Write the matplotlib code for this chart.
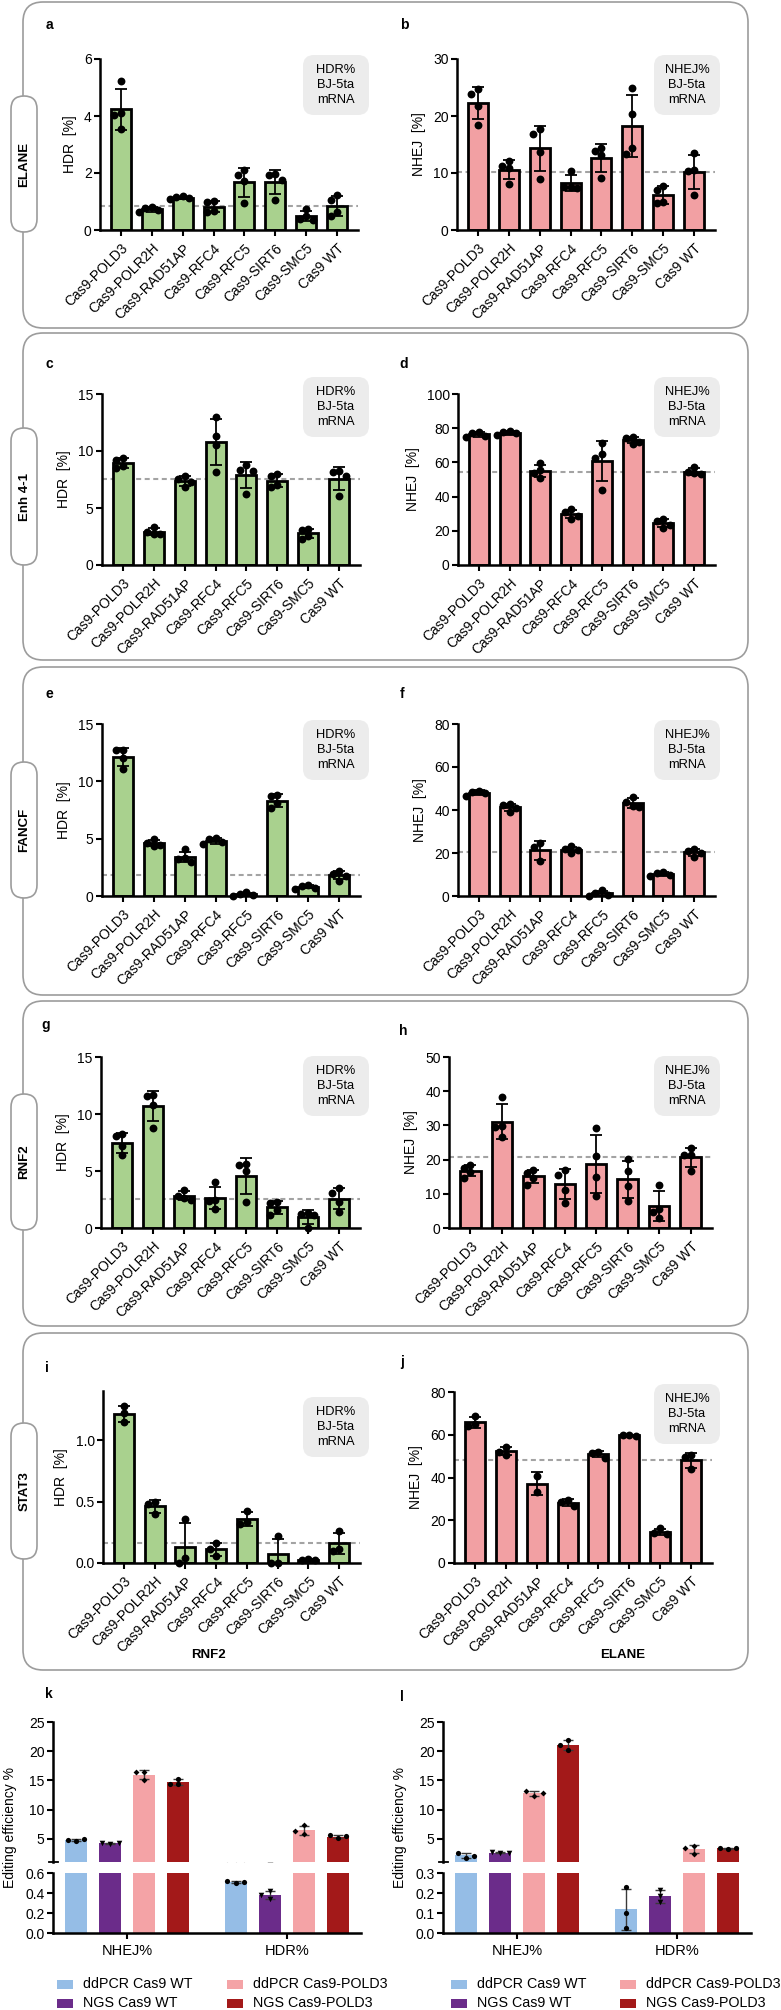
import numpy as np
import matplotlib
matplotlib.use('Agg')
import matplotlib.pyplot as plt
from matplotlib.patches import FancyBboxPatch, Rectangle
from matplotlib.ticker import FormatStrFormatter

plt.rcParams['font.family'] = ['Liberation Sans', 'DejaVu Sans']

# ---------------- data ----------------
categories = ['Cas9-POLD3', 'Cas9-POLR2H', 'Cas9-RAD51AP', 'Cas9-RFC4',
              'Cas9-RFC5', 'Cas9-SIRT6', 'Cas9-SMC5', 'Cas9 WT']

elane_hdr = [[5.23, 4.1, 4.05, 3.55], [0.82, 0.78, 0.7, 0.62], [1.18, 1.15, 1.12, 1.08],
             [1.0, 0.97, 0.66, 0.63], [2.1, 1.93, 1.72, 0.96], [1.96, 1.93, 1.75, 1.05],
             [0.73, 0.49, 0.37, 0.35], [1.23, 1.05, 0.64, 0.49]]
elane_nhej = [[24.7, 23.9, 21.8, 18.4], [12.1, 11.3, 10.9, 8.1], [17.8, 16.8, 13.7, 8.9],
              [10.35, 7.6, 7.5, 7.4], [14.4, 13.9, 13.2, 9.1], [24.9, 20.4, 14.4, 13.3],
              [7.8, 7.1, 4.9, 4.7], [13.45, 10.5, 10.35, 6.2]]
enh_hdr = [[9.36, 9.2, 8.68, 8.48], [3.36, 2.92, 2.72, 2.69], [7.84, 7.5, 7.3, 6.87],
           [13.0, 11.35, 10.5, 8.19], [8.77, 8.33, 8.25, 6.23], [7.98, 7.8, 7.02, 6.81],
           [3.16, 3.07, 2.57, 2.28], [8.27, 8.19, 7.8, 6.08]]
enh_nhej = [[78.0, 77.0, 75.6, 74.7], [78.6, 78.0, 77.0, 76.0], [59.8, 55.6, 53.6, 50.9],
            [32.7, 31.2, 28.9, 27.1], [71.2, 64.7, 62.8, 43.9], [75.0, 74.0, 72.1, 70.8],
            [26.7, 25.7, 23.4, 21.6], [57.6, 54.3, 53.6, 53.0]]
fancf_hdr = [[12.75, 12.7, 12.02, 11.09], [4.96, 4.58, 4.44, 4.38], [4.06, 3.3, 3.2, 3.0],
             [5.02, 4.93, 4.73, 4.52], [0.35, 0.15, 0.06, 0.02], [8.81, 8.72, 8.08, 7.7],
             [0.99, 0.88, 0.73, 0.64], [2.15, 1.95, 1.75, 1.35]]
fancf_nhej = [[49.0, 48.6, 47.8, 46.5], [42.6, 42.3, 41.1, 39.2], [24.7, 22.6, 16.2],
              [23.2, 21.8, 21.3, 20.1], [2.6, 1.4, 0.6, 0.1], [46.2, 43.6, 41.9, 41.2],
              [11.2, 10.7, 10.0, 9.3], [21.8, 21.0, 20.2, 18.0]]
rnf2_hdr = [[8.25, 8.04, 7.16, 6.37], [11.7, 11.55, 10.82, 8.77], [3.36, 2.84, 2.63, 2.49],
            [4.0, 2.49, 2.34, 1.67], [5.6, 5.5, 5.0, 2.25], [2.3, 2.2, 1.6, 1.1],
            [1.3, 1.25, 1.15, 0.02], [3.55, 3.05, 2.3, 1.4]]
rnf2_nhej = [[18.3, 17.5, 16.3, 14.6], [38.4, 29.8, 29.5, 26.6], [17.1, 16.1, 14.6, 12.7],
             [17.1, 15.4, 11.2, 7.3], [29.2, 21.0, 15.0, 9.3], [20.2, 16.6, 12.2, 7.8],
             [12.7, 5.5, 4.6, 2.8], [23.4, 21.4, 21.2, 16.8]]
stat3_hdr = [[1.28, 1.22, 1.15], [0.50, 0.48, 0.40], [0.356, 0.04, 0.0],
             [0.163, 0.117, 0.054], [0.42, 0.33, 0.32], [0.217, 0.0, 0.0],
             [0.03, 0.027, 0.025], [0.26, 0.117, 0.10]]
stat3_nhej = [[68.7, 64.9, 64.0], [54.4, 52.0, 50.5], [40.9, 33.4],
              [29.5, 28.7, 26.7], [52.0, 51.6, 49.2], [60.0, 59.8, 59.6],
              [16.3, 14.0, 13.7], [50.6, 49.4, 44.2]]

genes = ['ELANE', 'Enh 4-1', 'FANCF', 'RNF2', 'STAT3']

method_groups = ['NHEJ%', 'HDR%']
method_series = ['ddPCR Cas9 WT', 'NGS Cas9 WT', 'ddPCR Cas9-POLD3', 'NGS Cas9-POLD3']
k_nhej = [[4.55, 4.85, 4.9], [4.14, 4.31, 4.25], [16.4, 16.4, 15.06], [14.37, 15.23, 14.37]]
k_hdr = [[0.50, 0.517, 0.51], [0.423, 0.34, 0.383], [7.3, 5.75, 6.26], [5.11, 5.57, 5.40]]
l_nhej = [[1.75, 2.5, 2.1], [2.59, 2.7, 2.59], [12.36, 13.16, 12.76], [21.95, 20.23, 20.98]]
l_hdr = [[0.23, 0.1, 0.025], [0.217, 0.183, 0.153], [3.74, 2.41, 3.45], [3.28, 3.45, 3.39]]

# ---------------- style ----------------
GREEN = '#a9d18e'
PINK = '#f2a0a3'
SERIES_COLORS = ['#95bde6', '#6b2c8a', '#f4a3a6', '#a31919']
SERIES_MARKERS = ['o', 'v', 'D', 'o']
SERIES_MS = [14, 16, 9, 14]

W, H = 781, 2010
fig = plt.figure(figsize=(W / 100, H / 100), dpi=100)

ov = fig.add_axes([0, 0, 1, 1])
ov.set_xlim(0, W)
ov.set_ylim(H, 0)
ov.axis('off')
ov.set_zorder(0)


def px_axes(l, r, t, b):
    ax = fig.add_axes([l / W, 1 - b / H, (r - l) / W, (b - t) / H])
    ax.set_zorder(2)
    ax.patch.set_alpha(0)
    return ax


def swarm(vals, sx, sy, thr, step):
    placed, offs = [], []
    for v in vals:
        xo = 0.0
        for k in [0, -1, 1, -2, 2, -3, 3]:
            xo = k * step
            if all(np.hypot((xo - px) * sx, (v - pv) * sy) >= thr for px, pv in placed):
                break
        placed.append((xo, v))
        offs.append(xo)
    return np.array(offs)


def style_axis(ax):
    for s in ['top', 'right']:
        ax.spines[s].set_visible(False)
    for s in ['left', 'bottom']:
        ax.spines[s].set_linewidth(1.8)
    ax.tick_params(width=1.5, length=4, labelsize=10, pad=2, color='black')


def gene_panel(box, data, ylim, yticks, ylabel, color, fmt=None):
    l, r, t, b = box
    ax = px_axes(l, r, t, b)
    n = len(categories)
    x = np.arange(n)
    means = np.array([np.mean(d) for d in data])
    sds = np.array([np.std(d, ddof=1) for d in data])
    xlim = (-0.68, n - 1 + 0.68)
    ax.set_xlim(*xlim)
    ax.set_ylim(*ylim)
    ax.axhline(means[-1], color='#a3a3a3', lw=1.5, ls=(0, (2.4, 1.7)), zorder=1)
    ax.bar(x, means, width=0.65, color=color, edgecolor='black', linewidth=2.0, zorder=2)
    ax.errorbar(x, means, yerr=sds, fmt='none', ecolor='black', elinewidth=1.3,
                capsize=4.3, capthick=1.3, zorder=3)
    sx = (r - l) / (xlim[1] - xlim[0])
    sy = (b - t) / (ylim[1] - ylim[0])
    for xi, d in zip(x, data):
        offs = swarm(d, sx, sy, 6.5, 6.5 / sx)
        ax.scatter(xi + offs, d, s=32, color='black', zorder=4, clip_on=False, linewidths=0)
    style_axis(ax)
    ax.set_yticks(yticks)
    if fmt:
        ax.yaxis.set_major_formatter(FormatStrFormatter(fmt))
    ax.set_xticks(x)
    ax.set_xticklabels(categories, rotation=45, ha='right', rotation_mode='anchor', fontsize=10)
    ax.tick_params(axis='x', pad=4)
    ax.set_ylabel(ylabel, fontsize=10, labelpad=5)
    return ax


# ---------------- row frames ----------------
rows = [(2, 328), (333, 660), (667, 995), (1001, 1326), (1333, 1670)]
pills = [(96, 232), (428, 565), (762, 898), (1094, 1230), (1423, 1559)]
for (t, b), (pt, pb), g in zip(rows, pills, genes):
    ov.add_patch(FancyBboxPatch((23, t), 725, b - t, boxstyle='round,pad=0,rounding_size=20',
                                fc='none', ec='#9c9c9c', lw=1.2))
    ov.add_patch(FancyBboxPatch((11, pt), 26, pb - pt, boxstyle='round,pad=0,rounding_size=13',
                                fc='white', ec='#9c9c9c', lw=1.2, zorder=3))
    ov.text(24.5, (pt + pb) / 2, g, rotation=90, ha='center', va='center',
            fontsize=9.5, fontweight='bold', zorder=4)

# ---------------- gene panels ----------------
left_boxes = [(100, 358, 59, 230), (102, 360, 394, 565), (102, 360, 724, 896),
              (101, 360, 1057, 1228), (103, 360, 1391, 1563)]
right_boxes = [(457, 715, 59, 230), (458, 715, 394, 565), (458, 715, 724, 896),
               (449, 712, 1057, 1228), (454, 712, 1392, 1563)]
hdr_sets = [elane_hdr, enh_hdr, fancf_hdr, rnf2_hdr, stat3_hdr]
nhej_sets = [elane_nhej, enh_nhej, fancf_nhej, rnf2_nhej, stat3_nhej]
hdr_lims = [((0, 6), [0, 2, 4, 6], None), ((0, 15), [0, 5, 10, 15], None),
            ((0, 15), [0, 5, 10, 15], None), ((0, 15), [0, 5, 10, 15], None),
            ((0, 1.4), [0, 0.5, 1.0], '%.1f')]
nhej_lims = [((0, 30), [0, 10, 20, 30]), ((0, 100), [0, 20, 40, 60, 80, 100]),
             ((0, 80), [0, 20, 40, 60, 80]), ((0, 50), [0, 10, 20, 30, 40, 50]),
             ((0, 80), [0, 20, 40, 60, 80])]
for i in range(5):
    lim, tk, fm = hdr_lims[i]
    gene_panel(left_boxes[i], hdr_sets[i], lim, tk, 'HDR  [%]', GREEN, fm)
    lim, tk = nhej_lims[i]
    gene_panel(right_boxes[i], nhej_sets[i], lim, tk, 'NHEJ  [%]', PINK)

# info boxes
left_info_y = [85, 407, 750, 1086, 1427]
right_info_y = [85, 407, 750, 1086, 1414]
for yl, yr in zip(left_info_y, right_info_y):
    for cx, cy, txt in [(336, yl, 'HDR%\nBJ-5ta\nmRNA'), (687, yr, 'NHEJ%\nBJ-5ta\nmRNA')]:
        ov.add_patch(FancyBboxPatch((cx - 33, cy - 30), 66, 60,
                                    boxstyle='round,pad=0,rounding_size=11',
                                    fc='#ececec', ec='none', zorder=1))
        ov.text(cx, cy, txt, ha='center', va='center', fontsize=9.3, linespacing=1.3, zorder=2)

# panel letters
letters = [('a', 49, 25), ('b', 404, 25), ('c', 49, 364), ('d', 404, 364),
           ('e', 49, 694), ('f', 402, 694), ('g', 46, 1025), ('h', 403, 1031),
           ('i', 47, 1368), ('j', 402, 1362), ('k', 49, 1694), ('l', 402, 1697)]
for s, x0, y0 in letters:
    ov.text(x0, y0, s, ha='center', va='center', fontsize=10, fontweight='bold')

ov.text(208, 1655, 'RNF2', ha='center', va='center', fontsize=9.5, fontweight='bold')
ov.text(623, 1655, 'ELANE', ha='center', va='center', fontsize=9.5, fontweight='bold')


# ---------------- method comparison panels ----------------
def method_panel(l, r, nhej, hdr, lo_lim, lo_ticks):
    up = px_axes(l, r, 1722, 1862)
    lo = px_axes(l, r, 1873, 1933)
    ns = len(method_series)
    gap = 1.68
    group_x = [np.arange(ns) + gi * (ns - 1 + gap) for gi in range(len(method_groups))]
    xlim = (-0.68, group_x[-1][-1] + 0.68)
    up_lim = (1, 25)
    for ax, ylim in [(up, up_lim), (lo, lo_lim)]:
        ax.set_xlim(*xlim)
        ax.set_ylim(*ylim)
        sx = (r - l) / (xlim[1] - xlim[0])
        pix_h = ax.get_position().height * H
        sy = pix_h / (ylim[1] - ylim[0])
        for gi, gdata in enumerate([nhej, hdr]):
            for si in range(ns):
                d = gdata[si]
                xm = group_x[gi][si]
                m = np.mean(d)
                sd = np.std(d, ddof=1)
                ax.bar(xm, m, width=0.65, color=SERIES_COLORS[si], edgecolor='none', zorder=2)
                ax.errorbar(xm, m, yerr=sd, fmt='none', ecolor='#3a3a3a', elinewidth=1.0,
                            capsize=3.5, capthick=1.0, zorder=3)
                offs = swarm(d, sx, sy, 5, 8.3 / sx)
                ax.scatter(xm + offs, d, s=SERIES_MS[si], marker=SERIES_MARKERS[si],
                           color='black', zorder=4, linewidths=0)
        ax.spines['top'].set_visible(False)
        ax.spines['right'].set_visible(False)
        ax.spines['left'].set_linewidth(1.8)
        ax.tick_params(width=1.5, length=4, labelsize=10, pad=2)
    up.spines['bottom'].set_visible(False)
    up.set_xticks([])
    up.set_yticks([5, 10, 15, 20, 25])
    lo.spines['bottom'].set_linewidth(1.8)
    lo.set_yticks(lo_ticks)
    lo.yaxis.set_major_formatter(FormatStrFormatter('%.1f'))
    lo.set_xticks([np.mean(gx) for gx in group_x])
    lo.set_xticklabels(method_groups, fontsize=10.5)
    lo.tick_params(axis='x', pad=4)
    # break mark on upper segment
    ov.plot([l - 4, l + 5], [1862, 1862], color='black', lw=1.3, zorder=5)
    ov.text(l - 43, 1827, 'Editing efficiency %', rotation=90, ha='center', va='center',
            fontsize=10)
    return up, lo


method_panel(53, 361, k_nhej, k_hdr, (0, 0.6), [0.0, 0.2, 0.4, 0.6])
method_panel(443, 751, l_nhej, l_hdr, (0, 0.3), [0.0, 0.1, 0.2, 0.3])

# legends
legend_cols = [((57, 83), (227, 253)), ((451, 477), (620, 646))]
legend_rows = [1984, 2003]
for cols in legend_cols:
    for si, name in enumerate(method_series):
        (px0, tx0) = cols[si // 2]
        y0 = legend_rows[si % 2]
        ov.add_patch(Rectangle((px0, y0 - 4.5), 16, 9, fc=SERIES_COLORS[si], ec='none'))
        ov.text(tx0, y0, name, ha='left', va='center', fontsize=10.3)

fig.savefig('out.png', dpi=100)
